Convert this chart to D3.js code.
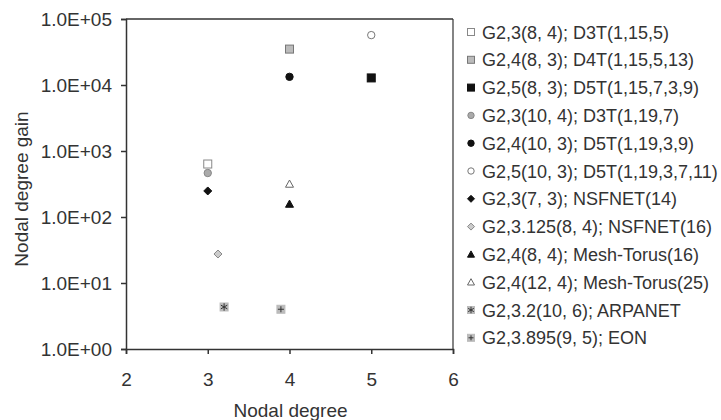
<!DOCTYPE html>
<html><head><meta charset="utf-8">
<script src="https://cdn.jsdelivr.net/npm/d3@7"></script>
<style>body{margin:0;background:#fff;font-family:"Liberation Sans",Arial,sans-serif;}</style>
</head><body><svg id="c" width="721" height="420"></svg>
<script>
const labels = ["G2,3(8, 4); D3T(1,15,5)","G2,4(8, 3); D4T(1,15,5,13)","G2,5(8, 3); D5T(1,15,7,3,9)","G2,3(10, 4); D3T(1,19,7)","G2,4(10, 3); D5T(1,19,3,9)","G2,5(10, 3); D5T(1,19,3,7,11)","G2,3(7, 3); NSFNET(14)","G2,3.125(8, 4); NSFNET(16)","G2,4(8, 4); Mesh-Torus(16)","G2,4(12, 4); Mesh-Torus(25)","G2,3.2(10, 6); ARPANET","G2,3.895(9, 5); EON"];
const xVals = [3, 4, 5, 3, 4, 5, 3, 3.125, 4, 4, 3.2, 3.895];
const yVals = [635, 35000, 12800, 464, 13300, 57000, 248, 27.5, 157, 316, 4.33, 4.0];
const markers = ["sqOpen","sqGray","sqBlack","cirGray","cirBlack","cirOpen","diaBlack","diaGray","triBlack","triOpen","sqStar","sqPlus"];
const xTicks = [2, 3, 4, 5, 6];
const yTicks = [1, 10, 100, 1000, 10000, 100000];

const svg = d3.select("#c");
const L = 126, R = 453, T = 19, B = 349;
const x = d3.scaleLinear().domain([2, 6]).range([L, R]);
const y = d3.scaleLog().domain([1, 100000]).range([B, T]);
const txt = "#333";

svg.append("line").attr("x1", L).attr("x2", R).attr("y1", T).attr("y2", T).attr("stroke", "#333").attr("stroke-width", 1.5);
svg.append("line").attr("x1", R).attr("x2", R).attr("y1", T).attr("y2", B).attr("stroke", "#333").attr("stroke-width", 1.2);

const yAx = svg.append("g").attr("transform", `translate(${L},0)`)
  .call(d3.axisLeft(y).tickValues(yTicks).tickFormat(d => d3.format(".1e")(d).replace("e+", "E+0").toUpperCase()).tickSize(5).tickPadding(9));
const xAx = svg.append("g").attr("transform", `translate(0,${B})`)
  .call(d3.axisBottom(x).tickValues(xTicks).tickFormat(d3.format("d")).tickSize(5).tickPadding(19));
[yAx, xAx].forEach(a => {
  a.select(".domain").attr("stroke", "#333").attr("stroke-width", 1.5);
  a.selectAll(".tick line").attr("stroke", "#333").attr("stroke-width", 1.5);
  a.selectAll("text").attr("fill", txt).style("font-size", "19px").style("font-family", "Liberation Sans, Arial, sans-serif");
});

svg.append("text").attr("x", (L + R) / 2 + 1).attr("y", 417).attr("text-anchor", "middle")
  .attr("fill", txt).style("font-size", "19px").text("Nodal degree");
svg.append("text").attr("transform", `translate(28,189) rotate(-90)`).attr("text-anchor", "middle")
  .attr("fill", txt).style("font-size", "19px").text("Nodal degree gain");

function drawMarker(g, type, s) {
  const gray = "#aaa", gs = "#888", blk = "#111";
  const h = s / 2;
  if (type.startsWith("sq")) {
    let fill = "#fff", st = gs;
    if (type === "sqGray") { fill = "#bbb"; st = "#777"; }
    if (type === "sqBlack") { fill = blk; st = blk; }
    if (type === "sqStar" || type === "sqPlus") { fill = "#bbb"; st = "#bbb"; }
    g.append("rect").attr("x", -h).attr("y", -h).attr("width", s).attr("height", s)
      .attr("fill", fill).attr("stroke", st).attr("stroke-width", 1);
    if (type === "sqStar") {
      g.append("path").attr("d", d3.symbol(d3.symbolAsterisk, s * s * 0.6)()).attr("stroke", "#333").attr("stroke-width", 1).attr("fill", "none");
    }
    if (type === "sqPlus") {
      g.append("path").attr("d", `M${-h + 1},0H${h - 1}M0,${-h + 1}V${h - 1}`).attr("stroke", "#333").attr("stroke-width", 1);
    }
  } else if (type.startsWith("cir")) {
    let fill = "#fff", st = "#777";
    if (type === "cirGray") { fill = gray; st = gs; }
    if (type === "cirBlack") { fill = blk; st = blk; }
    g.append("circle").attr("r", h - 0.3).attr("fill", fill).attr("stroke", st).attr("stroke-width", 1);
  } else if (type.startsWith("dia")) {
    let fill = type === "diaBlack" ? blk : "#ccc", st = type === "diaBlack" ? blk : "#888";
    g.append("path").attr("d", `M0,${-h}L${h},0L0,${h}L${-h},0Z`).attr("fill", fill).attr("stroke", st).attr("stroke-width", 1);
  } else if (type.startsWith("tri")) {
    let fill = type === "triBlack" ? blk : "#fff", st = type === "triBlack" ? blk : "#666";
    g.append("path").attr("d", `M0,${-h}L${h},${h * 0.8}L${-h},${h * 0.8}Z`).attr("fill", fill).attr("stroke", st).attr("stroke-width", 1);
  }
}

const pts = svg.append("g");
xVals.forEach((xv, i) => {
  const g = pts.append("g").attr("transform", `translate(${x(xv)},${y(yVals[i])})`);
  drawMarker(g, markers[i], 8);
});

const leg = svg.append("g");
labels.forEach((lab, i) => {
  const yy = 32 + i * 27.8;
  const g = leg.append("g").attr("transform", `translate(471,${yy})`);
  drawMarker(g, markers[i], 7);
  leg.append("text").attr("x", 482).attr("y", yy + 6.5).attr("fill", txt)
    .style("font-size", "18px").text(lab);
});
</script></body></html>
